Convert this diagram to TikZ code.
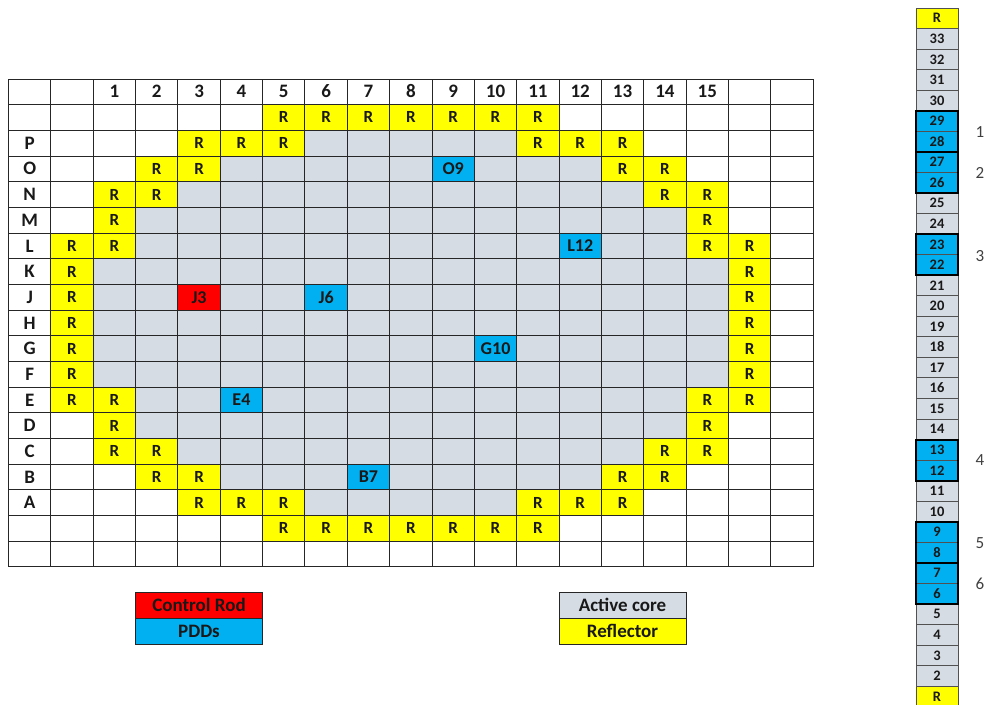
\documentclass[tikz,border=0pt]{standalone}
\usepackage{fontspec}
\setmainfont{Carlito}
\definecolor{pdd}{HTML}{00B0F0}
\definecolor{refl}{HTML}{FFFF00}
\definecolor{core}{HTML}{D6DCE4}
\definecolor{rod}{HTML}{FF0000}
\definecolor{gridc}{HTML}{262626}
\tikzset{
  cell/.style={minimum width=42.35pt,minimum height=25.68pt,inner sep=0pt,outer sep=0pt,anchor=center,text height=10.9pt,text depth=0pt,font=\bfseries\fontsize{17}{17}\selectfont,text=black!90},
  headc/.style={cell,text height=12.2pt,font=\bfseries\fontsize{19}{19}\selectfont},
  reflc/.style={cell,fill=refl},
  corec/.style={cell,fill=core},
  pddc/.style={cell,fill=pdd,text height=11.5pt,font=\bfseries\fontsize{18}{18}\selectfont},
  rodc/.style={cell,fill=rod,text height=11.5pt,font=\bfseries\fontsize{18}{18}\selectfont},
  gridl/.style={draw=gridc,line width=1pt},
  legendc/.style={minimum width=127pt,minimum height=26pt,inner sep=0pt,outer sep=0pt,text height=12.2pt,text depth=0pt,draw=gridc,line width=1pt,font=\bfseries\fontsize{19}{19}\selectfont,text=black!90},
  stripc/.style={minimum width=42pt,minimum height=20.55pt,inner sep=0pt,outer sep=0pt,text height=9.3pt,text depth=0pt,draw=gridc!80,line width=1pt,font=\bfseries\fontsize{14.5}{14.5}\selectfont,text=black!90},
  pairbox/.style={draw=black,line width=2pt},
  sidel/.style={inner sep=0pt,font=\fontsize{17}{17}\selectfont,text=black!75}
}
\begin{document}
\begin{tikzpicture}[x=1pt,y=-1pt]
\clip (0,0) rectangle (984,704);
% active core: row / first column / last column (column 0 = blank column left of 1)
\foreach \r/\a/\b in {2/6/10,3/4/12,4/3/13,5/2/14,6/2/14,7/1/15,8/1/15,9/1/15,10/1/15,11/1/15,12/2/14,13/2/14,14/3/13,15/4/12,16/6/10}{
  \foreach \c in {\a,...,\b}{
    \node[corec] (c\r-\c) at ({8.5+42.35*(\c+1.5)},{79+25.68*(\r+.5)}) {};
  }
}
% reflector
\foreach \r/\cols in {1/{5,6,7,8,9,10,11},2/{3,4,5,11,12,13},3/{2,3,13,14},4/{1,2,14,15},5/{1,15},6/{0,1,15,16},7/{0,16},8/{0,16},9/{0,16},10/{0,16},11/{0,16},12/{0,1,15,16},13/{1,15},14/{1,2,14,15},15/{2,3,13,14},16/{3,4,5,11,12,13},17/{5,6,7,8,9,10,11}}{
  \foreach \c in \cols{
    \node[reflc] (r\r-\c) at ({8.5+42.35*(\c+1.5)},{79+25.68*(\r+.5)}) {R};
  }
}
% special cells
\foreach \r/\c/\t/\s in {3/9/O9/pddc,6/12/L12/pddc,8/3/J3/rodc,8/6/J6/pddc,10/10/G10/pddc,12/4/E4/pddc,15/7/B7/pddc}{
  \node[\s] (s\t) at ({8.5+42.35*(\c+1.5)},{79+25.68*(\r+.5)}) {\t};
}
% grid
\foreach \i in {0,...,19}{
  \draw[gridl] ({8.5+42.35*\i},79) -- ({8.5+42.35*\i},567);
}
\foreach \j in {0,...,19}{
  \draw[gridl] (8.5,{79+25.68*\j}) -- (813.15,{79+25.68*\j});
}
% headers
\foreach \n in {1,...,15}{
  \node[headc] (h\n) at ({8.5+42.35*(\n+1.5)},{79+25.68*.5}) {\n};
}
\foreach \r/\t in {2/P,3/O,4/N,5/M,6/L,7/K,8/J,9/H,10/G,11/F,12/E,13/D,14/C,15/B,16/A}{
  \node[headc] (l\t) at ({8.5+42.35*.5},{79+25.68*(\r+.5)}) {\t};
}
% legends
\node[legendc,fill=rod] (lrod) at (199,605) {Control Rod};
\node[legendc,fill=pdd] (lpdd) at (199,631) {PDDs};
\node[legendc,fill=core] (lcore) at (622.5,605) {Active core};
\node[legendc,fill=refl] (lrefl) at (622.5,631) {Reflector};
% strip
\node[stripc,fill=refl] (top) at (937,18.3) {R};
\foreach \n in {2,...,33}{
  \pgfmathtruncatemacro{\k}{34-\n}
  \def\f{core}
  \ifnum\n>5 \ifnum\n<10 \def\f{pdd}\fi\fi
  \ifnum\n>11 \ifnum\n<14 \def\f{pdd}\fi\fi
  \ifnum\n>21 \ifnum\n<24 \def\f{pdd}\fi\fi
  \ifnum\n>25 \ifnum\n<30 \def\f{pdd}\fi\fi
  \node[stripc,fill=\f] (n\n) at (937,{18.3+20.55*\k}) {\n};
}
\node[stripc,fill=refl] (bot) at (937,{18.3+20.55*33}) {R};
\foreach \a/\b in {29/28,27/26,23/22,13/12,9/8,7/6}{
  \draw[pairbox] (n\a.north west) rectangle (n\b.south east);
}
\foreach \t/\y in {1/132,2/173,3/256,4/460,5/543,6/584}{
  \node[sidel] (p\t) at (980,\y) {\t};
}
\end{tikzpicture}
\end{document}
